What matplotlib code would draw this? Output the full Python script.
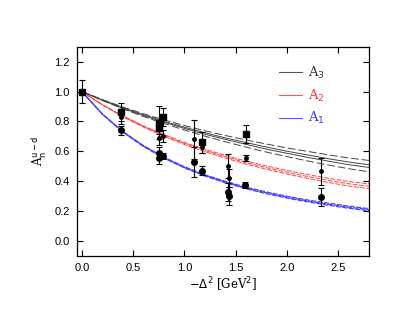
import numpy as np
import matplotlib.pyplot as plt

# curves (centre lines)
x_curve = [0.0, 0.2, 0.4, 0.6, 0.8, 1.0, 1.2, 1.4, 1.6, 1.8, 2.0, 2.2, 2.4, 2.6, 2.8]
a3_curve = [1.0, 0.943, 0.890, 0.842, 0.798, 0.757, 0.719, 0.684, 0.652, 0.621, 0.593, 0.567, 0.542, 0.519, 0.500]
a2_curve = [1.0, 0.911, 0.834, 0.766, 0.706, 0.652, 0.605, 0.563, 0.524, 0.490, 0.459, 0.431, 0.405, 0.382, 0.365]
a1_curve = [1.0, 0.849, 0.730, 0.635, 0.557, 0.492, 0.438, 0.393, 0.354, 0.321, 0.292, 0.267, 0.245, 0.225, 0.208]
# band half widths (outer dashed, inner solid)
a3_outer = [0.0, 0.003, 0.006, 0.009, 0.012, 0.015, 0.018, 0.021, 0.024, 0.027, 0.029, 0.032, 0.034, 0.036, 0.038]
a3_inner = [0.0, 0.001, 0.002, 0.003, 0.003, 0.004, 0.005, 0.005, 0.006, 0.007, 0.007, 0.008, 0.008, 0.009, 0.009]
a2_outer = [0.0, 0.001, 0.003, 0.004, 0.006, 0.007, 0.008, 0.009, 0.010, 0.011, 0.012, 0.013, 0.014, 0.015, 0.016]
a1_outer = [0.0, 0.001, 0.002, 0.003, 0.003, 0.004, 0.004, 0.005, 0.005, 0.006, 0.006, 0.006, 0.007, 0.007, 0.007]

# lattice points
sq_x = [0.0, 0.38, 0.75, 0.75, 0.79, 1.175, 1.6]
sq_y = [1.0, 0.86, 0.79, 0.755, 0.83, 0.66, 0.715]
sq_e = [0.08, 0.06, 0.11, 0.04, 0.06, 0.07, 0.06]

sc_x = [0.38, 0.75, 0.79, 1.09, 1.175, 1.43, 1.44, 1.6, 2.33]
sc_y = [0.83, 0.69, 0.705, 0.68, 0.625, 0.50, 0.42, 0.555, 0.465]
sc_e = [0.05, 0.05, 0.04, 0.13, 0.04, 0.08, 0.06, 0.02, 0.09]

bc_x = [0.38, 0.75, 0.75, 0.79, 1.09, 1.175, 1.43, 1.44, 1.59, 2.33]
bc_y = [0.74, 0.59, 0.555, 0.565, 0.525, 0.47, 0.325, 0.30, 0.375, 0.295]
bc_e = [0.03, 0.04, 0.04, 0.02, 0.10, 0.03, 0.06, 0.06, 0.02, 0.06]

plt.rcParams['font.family'] = ['Liberation Sans', 'DejaVu Sans']
fig = plt.figure(figsize=(4.09, 3.16), dpi=100)
ax = fig.add_axes([0.1875, 0.191, 0.7145, 0.661])

xc = np.array(x_curve)

def band(center, outer, inner, color, lw, dash):
    c = np.array(center)
    o = np.array(outer)
    ax.plot(xc, c + o, color=color, lw=lw, ls=(0, dash))
    ax.plot(xc, c - o, color=color, lw=lw, ls=(0, dash))
    if inner is not None:
        i = np.array(inner)
        ax.plot(xc, c + i, color=color, lw=lw)
        ax.plot(xc, c - i, color=color, lw=lw)
    else:
        ax.plot(xc, c, color=color, lw=lw, ls=(2, dash))

band(a3_curve, a3_outer, a3_inner, '#444444', 0.7, (8, 3))
band(a2_curve, a2_outer, None, '#ff4444', 0.7, (5, 1.5))
band(a1_curve, a1_outer, None, '#4444ff', 0.9, (4, 1.2))

ebkw = dict(fmt='none', ecolor='black', elinewidth=0.8, capsize=2, capthick=0.8)
ax.errorbar(sq_x, sq_y, yerr=sq_e, **ebkw)
ax.errorbar(sc_x, sc_y, yerr=sc_e, **ebkw)
ax.errorbar(bc_x, bc_y, yerr=bc_e, **ebkw)
ax.plot(sq_x, sq_y, 's', color='black', ms=4)
ax.plot(sc_x, sc_y, 'o', color='black', ms=2.5)
ax.plot(bc_x, bc_y, 'o', color='black', ms=4)

# legend
h3, = ax.plot([], [], color='#555555', lw=0.8)
h2, = ax.plot([], [], color='#ff5555', lw=0.8)
h1, = ax.plot([], [], color='#5555ff', lw=0.8)
ax.legend([h3, h2, h1], ['A$_3$', 'A$_2$', 'A$_1$'], loc='upper left',
          bbox_to_anchor=(0.65, 0.97), frameon=False, labelcolor=['#333333', '#ff3333', '#3333ee'],
          handlelength=1.8, handletextpad=0.4, labelspacing=0.5,
          prop={'family': 'DejaVu Serif', 'size': 9.5})

ax.set_xlim(-0.05, 2.8)
ax.set_ylim(-0.1, 1.3)
ax.set_xticks([0.0, 0.5, 1.0, 1.5, 2.0, 2.5])
ax.set_yticks([0.0, 0.2, 0.4, 0.6, 0.8, 1.0, 1.2])
ax.set_xticklabels(['0.0', '0.5', '1.0', '1.5', '2.0', '2.5'])
ax.set_yticklabels(['0.0', '0.2', '0.4', '0.6', '0.8', '1.0', '1.2'])
ax.tick_params(direction='in', top=True, right=True, length=4, width=0.8, labelsize=8, pad=5)
for s in ax.spines.values():
    s.set_linewidth(0.9)

ax.set_xlabel(r'$-\Delta^2$ [GeV$^2$]', fontsize=8.5, labelpad=2, family='DejaVu Serif')
ax.set_ylabel(r'A$_{\rm n}^{\rm u-d}$', fontsize=8.5, labelpad=4, family='DejaVu Serif')

fig.savefig('out.png', dpi=100)
